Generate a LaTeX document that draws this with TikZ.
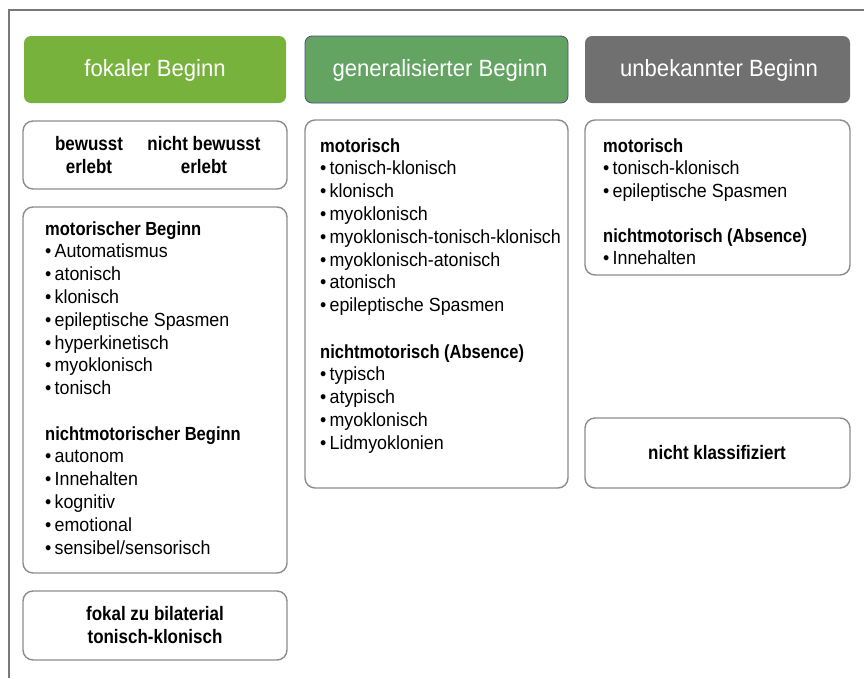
\documentclass[tikz,border=0pt]{standalone}
\usepackage{fontspec}
\setmainfont[FakeStretch=0.94,BoldFeatures={FakeStretch=0.87}]{Liberation Sans}
\usepackage{tikz}
\definecolor{fokalgruen}{RGB}{118,178,60}
\definecolor{generalgruen}{RGB}{99,164,99}
\definecolor{unbekanntgrau}{RGB}{112,112,112}
\definecolor{randgrau}{RGB}{140,140,140}
\definecolor{linie}{RGB}{120,120,120}

\begin{document}
\begin{tikzpicture}[x=1pt,y=-1pt,
  kopf/.style={rounded corners=7pt},
  kasten/.style={draw=randgrau,line width=1.4pt,rounded corners=10pt,fill=white},
  kopftext/.style={text=white,font=\fontsize{23.5}{27}\selectfont},
  titel/.style={anchor=base west,inner sep=0pt,font=\bfseries\fontsize{19}{22}\selectfont},
  punkt/.style={anchor=base west,inner sep=0pt,font=\fontsize{19}{22}\selectfont},
  mitte/.style={align=center,inner sep=0pt,font=\bfseries\fontsize{19.5}{23}\selectfont}]
\useasboundingbox (0,0) rectangle (864,678);
\draw[linie,line width=1.2pt] (9,678) -- (9,10) -- (864,10);

\fill[fokalgruen,kopf] (24,36) rectangle (286,103);
\fill[generalgruen,kopf,draw=black!45!blue!40!gray,line width=0.8pt] (305,36) rectangle (568,103);
\fill[unbekanntgrau,kopf] (585,36) rectangle (850,103);
\node[kopftext] (k1) at (155,70) {fokaler Beginn};
\node[kopftext] (k2) at (440,70) {generalisierter Beginn};
\node[kopftext] (k3) at (719,70) {unbekannter Beginn};

\draw[kasten] (23,121) rectangle (287,189);
\draw[kasten] (23,207) rectangle (287,573);
\draw[kasten] (23,591) rectangle (287,660);
\draw[kasten] (305,120) rectangle (568,488);
\draw[kasten] (585,120) rectangle (850,275);
\draw[kasten] (585,418) rectangle (850,488);

\node[mitte] (b1) at (89,155) {bewusst\\erlebt};
\node[mitte] (b2) at (204,155) {nicht bewusst\\erlebt};

\node[titel] (f0) at (45,235) {motorischer Beginn};
\foreach \t [count=\i] in {Automatismus,atonisch,klonisch,epileptische Spasmen,hyperkinetisch,myoklonisch,tonisch}
{
	\node[punkt] (f\i) at (45,235+22.8*\i) {\textbullet\,\t};
}
\node[titel] (n0) at (45,440) {nichtmotorischer Beginn};
\foreach \t [count=\i] in {autonom,Innehalten,kognitiv,emotional,sensibel/sensorisch}
{
	\node[punkt] (n\i) at (45,440+22.8*\i) {\textbullet\,\t};
}
\node[mitte] (fb) at (155,625) {fokal zu bilaterial\\tonisch-klonisch};

\node[titel] (g0) at (320,152) {motorisch};
\foreach \t [count=\i] in {tonisch-klonisch,klonisch,myoklonisch,myoklonisch-tonisch-klonisch,myoklonisch-atonisch,atonisch,epileptische Spasmen}
{
	\node[punkt] (g\i) at (320,152+22.8*\i) {\textbullet\,\t};
}
\node[titel] (h0) at (320,358) {nichtmotorisch (Absence)};
\foreach \t [count=\i] in {typisch,atypisch,myoklonisch,Lidmyoklonien}
{
	\node[punkt] (h\i) at (320,358+22.8*\i) {\textbullet\,\t};
}

\node[titel] (u0) at (603,152) {motorisch};
\foreach \t [count=\i] in {tonisch-klonisch,epileptische Spasmen}
{
	\node[punkt] (u\i) at (603,152+22.8*\i) {\textbullet\,\t};
}
\node[titel] (v0) at (603,242) {nichtmotorisch (Absence)};
\node[punkt] (v1) at (603,264.8) {\textbullet\,Innehalten};

\node[mitte] (nk) at (717,453) {nicht klassifiziert};
\end{tikzpicture}
\end{document}
